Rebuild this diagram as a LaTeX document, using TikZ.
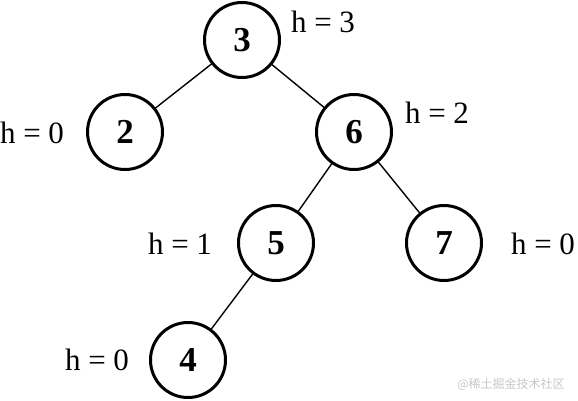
\documentclass[tikz,border=0pt]{standalone}
\usepackage{fontspec}
\setmainfont{Liberation Serif}
\newfontfamily\cjk{Noto Sans CJK SC}
\begin{document}
\begin{tikzpicture}[x=1pt,y=-1pt,line cap=round]
  \tikzset{
    vtx/.style={draw,circle,line width=3pt,minimum size=75pt,inner sep=0pt,font=\fontsize{35}{35}\selectfont\bfseries},
    hlab/.style={anchor=base,inner sep=0pt,font=\fontsize{31}{31}\selectfont},
    link/.style={line width=1.4pt}
  }
  \useasboundingbox (0,0) rectangle (578,400);
  \node[vtx] (n3) at (242,40) {3};
  \node[vtx] (n2) at (125,132) {2};
  \node[vtx] (n6) at (354,132) {6};
  \node[vtx] (n5) at (276,243) {5};
  \node[vtx] (n7) at (444,243) {7};
  \node[vtx] (n4) at (188,360) {4};
  \draw[link] (n3) -- (n2);
  \draw[link] (n3) -- (n6);
  \draw[link] (n6) -- (n5);
  \draw[link] (n6) -- (n7);
  \draw[link] (n5) -- (n4);
  \node[hlab] (h3) at (323,32) {h = 3};
  \node[hlab] (h2) at (32,143) {h = 0};
  \node[hlab] (h6) at (437,123) {h = 2};
  \node[hlab] (h5) at (180,254) {h = 1};
  \node[hlab] (h7) at (543,254) {h = 0};
  \node[hlab] (h4) at (97,370) {h = 0};
  \node[text=black!22,font=\cjk\fontsize{12}{12}\selectfont] (wm) at (511,384) {@稀土掘金技术社区};
\end{tikzpicture}
\end{document}
